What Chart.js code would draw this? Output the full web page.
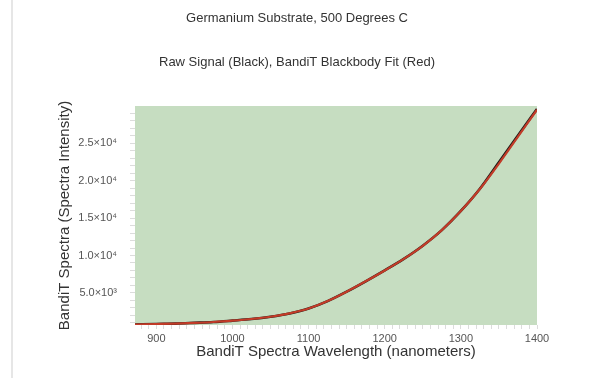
<!DOCTYPE html>
<html>
<head>
<meta charset="utf-8">
<script src="https://cdn.jsdelivr.net/npm/chart.js@4"></script>
<style>
  html, body { margin: 0; padding: 0; background: #fff; }
  #wrap { position: relative; width: 594px; height: 378px; }
  #edge { position: absolute; left: 11px; top: 0; width: 2px; height: 378px; background: #e6e6e6; }
  canvas { position: absolute; left: 0; top: 0; }
</style>
</head>
<body>
<div id="wrap">
  <div id="edge"></div>
  <canvas id="c" width="594" height="378"></canvas>
</div>
<script>
// Wavelength samples (nm)
const wavelengths = [872, 900, 925, 950, 975, 1000, 1025, 1050, 1075, 1100, 1125, 1150, 1175, 1200, 1225, 1250, 1275, 1300, 1325, 1350, 1375, 1400];
// Raw signal (black)
const rawSignal = [765, 835, 885, 985, 1095, 1285, 1495, 1805, 2245, 2905, 3895, 5155, 6545, 8005, 9545, 11310, 13390, 15955, 18930, 22480, 26060, 29600];
// BandiT blackbody fit (red)
const blackbodyFit = [770, 830, 890, 980, 1100, 1280, 1500, 1800, 2250, 2900, 3900, 5150, 6550, 8000, 9550, 11300, 13400, 15950, 18900, 22300, 25900, 29500];

// Axis ticks
const xTickValues = [900, 1000, 1100, 1200, 1300, 1400];
const xTickLabels = ['900', '1000', '1100', '1200', '1300', '1400'];
const yTickValues = [5000, 10000, 15000, 20000, 25000];
const yTickLabels = ['5.0×10³', '1.0×10⁴', '1.5×10⁴', '2.0×10⁴', '2.5×10⁴'];

const xMin = 872, xMax = 1400, yMin = 700, yMax = 30000;

const toPoints = (xs, ys) => xs.map((x, i) => ({x: x, y: ys[i]}));

const plotBg = {
  id: 'plotBg',
  beforeDraw(chart) {
    const {ctx, chartArea: a} = chart;
    ctx.save();
    ctx.fillStyle = '#c6ddc1';
    ctx.fillRect(a.left, a.top, a.right - a.left, a.bottom - a.top);
    ctx.restore();
  }
};

const FONT = "'Liberation Sans', Arial, sans-serif";

new Chart(document.getElementById('c'), {
  type: 'line',
  data: {
    datasets: [
      {
        label: 'BandiT Blackbody Fit',
        data: toPoints(wavelengths, blackbodyFit),
        borderColor: '#c23b28',
        borderWidth: 2.2,
        pointRadius: 0,
        cubicInterpolationMode: 'monotone',
        fill: false,
        order: 0
      },
      {
        label: 'Raw Signal',
        data: toPoints(wavelengths, rawSignal),
        borderColor: '#1e1a18',
        borderWidth: 2.6,
        pointRadius: 0,
        cubicInterpolationMode: 'monotone',
        fill: false,
        order: 1
      }
    ]
  },
  options: {
    responsive: false,
    animation: false,
    events: [],
    layout: { padding: 0 },
    plugins: {
      legend: { display: false },
      tooltip: { enabled: false },
      title: {
        display: true,
        text: 'Germanium Substrate, 500 Degrees C',
        color: '#333',
        font: { family: FONT, size: 13, weight: 'normal', lineHeight: 1.2 },
        padding: { top: 10.2, bottom: 0 }
      },
      subtitle: {
        display: true,
        text: 'Raw Signal (Black), BandiT Blackbody Fit (Red)',
        color: '#333',
        font: { family: FONT, size: 13, weight: 'normal', lineHeight: 1.2 },
        padding: { top: 28.4, bottom: 36.2 }
      }
    },
    scales: {
      x: {
        type: 'linear',
        min: xMin,
        max: xMax,
        afterBuildTicks(scale) {
          const t = [];
          for (let v = 880; v <= 1400; v += 10) t.push({value: v});
          scale.ticks = t;
        },
        afterFit(scale) { scale.height = 53; },
        border: { display: false },
        grid: { drawOnChartArea: false, drawTicks: true, tickLength: 4, tickColor: '#dcdcdc', lineWidth: 1 },
        ticks: {
          autoSkip: false,
          maxRotation: 0,
          padding: 3,
          color: '#555',
          font: { family: FONT, size: 11 },
          callback(value) {
            const i = xTickValues.indexOf(value);
            return i >= 0 ? xTickLabels[i] : '';
          }
        },
        title: {
          display: true,
          text: 'BandiT Spectra Wavelength (nanometers)',
          color: '#333',
          font: { family: FONT, size: 15, lineHeight: 1.2 },
          padding: { top: 0, bottom: 17 }
        }
      },
      y: {
        type: 'linear',
        min: yMin,
        max: yMax,
        afterBuildTicks(scale) {
          const t = [];
          for (let v = 1000; v <= 29000; v += 1000) t.push({value: v});
          scale.ticks = t;
        },
        afterFit(scale) { scale.width = 135; },
        border: { display: false },
        grid: { drawOnChartArea: false, drawTicks: true, tickLength: 5, tickColor: '#dcdcdc', lineWidth: 1 },
        ticks: {
          autoSkip: false,
          padding: 13,
          color: '#555',
          font: { family: FONT, size: 11 },
          callback(value) {
            const i = yTickValues.indexOf(value);
            return i >= 0 ? yTickLabels[i] : '';
          }
        },
        title: {
          display: true,
          text: 'BandiT Spectra (Spectra Intensity)',
          color: '#333',
          font: { family: FONT, size: 15, lineHeight: 1.2 },
          padding: { top: 56, bottom: 0 }
        }
      },
      yRight: {
        type: 'linear',
        position: 'right',
        display: true,
        min: yMin,
        max: yMax,
        afterFit(scale) { scale.width = 57; },
        border: { display: false },
        grid: { display: false },
        ticks: { display: false }
      }
    }
  },
  plugins: [plotBg]
});
</script>
</body>
</html>
